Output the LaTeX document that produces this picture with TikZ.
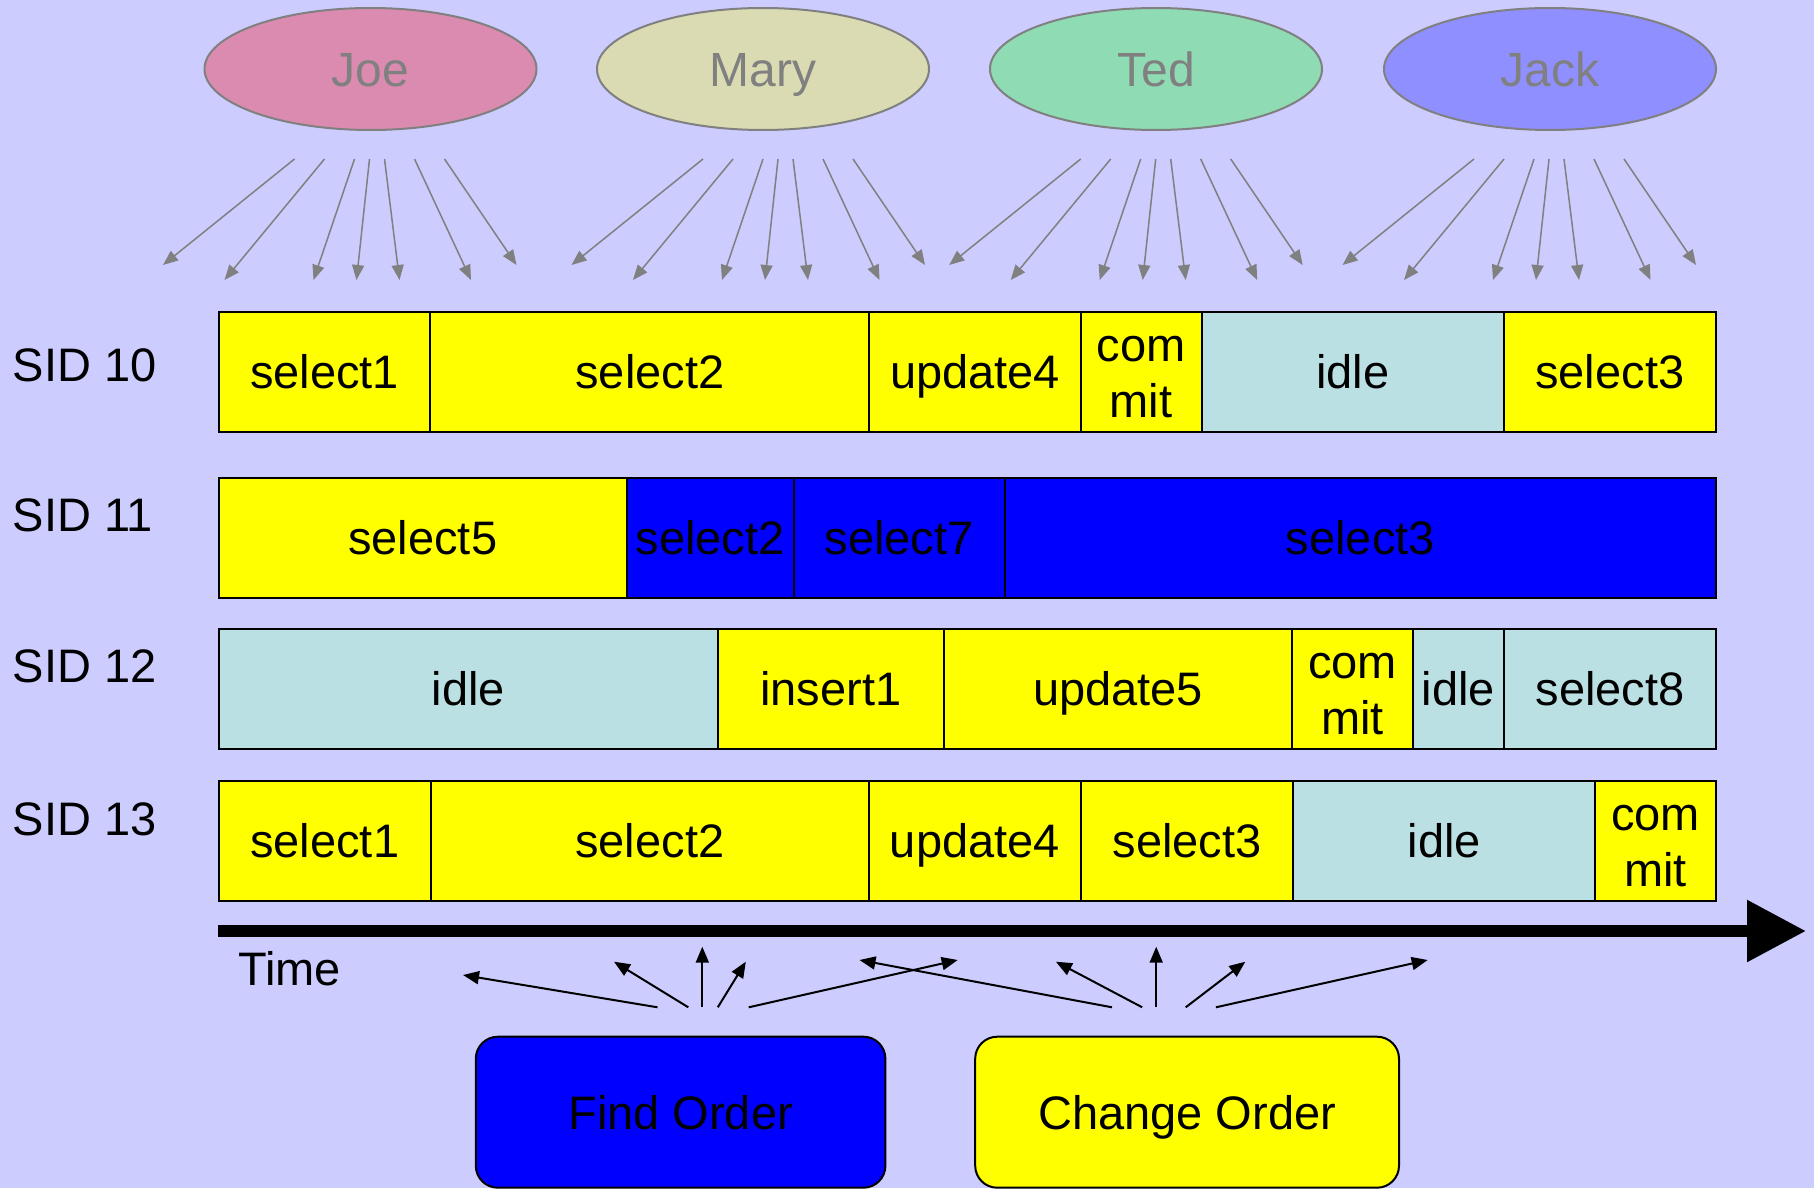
\documentclass[tikz,border=0pt]{standalone}
\usepackage{fontspec}
\setmainfont{Liberation Sans}
\usetikzlibrary{arrows.meta,shapes.geometric,calc}
\definecolor{bg}{RGB}{204,204,255}
\definecolor{joec}{RGB}{219,139,176}
\definecolor{maryc}{RGB}{219,219,179}
\definecolor{tedc}{RGB}{143,219,180}
\definecolor{jackc}{RGB}{143,143,255}
\definecolor{idlec}{RGB}{186,224,227}
\definecolor{ylw}{RGB}{255,255,0}
\definecolor{blu}{RGB}{0,0,255}
\definecolor{grayc}{RGB}{128,128,128}
\newcommand\seg[7]{%
  \node[segbox,#6,minimum width={(#3-#2)*1pt},minimum height={(#5-#4)*1pt}] (#1) at ({(#2+#3)/2},{(#4+#5)/2}) {#7};}
\newcommand\commitcell{\begin{tabular}[b]{@{}c@{}}com\\mit\end{tabular}}
\tikzset{
  segbox/.style={draw=black, line width=2pt, inner sep=0pt, outer sep=0pt, font=\fontsize{47}{56.5}\selectfont},
  one/.style={text height=34pt, text depth=0pt},
  two/.style={text height=92pt, text depth=0pt},
  Y/.style={fill=ylw}, I/.style={fill=idlec}, B/.style={fill=blu},
  actor/.style={ellipse, draw=grayc, line width=2pt, minimum width=332pt, minimum height=122pt, inner sep=0pt, text=grayc, font=\fontsize{48}{56}\selectfont, text height=35pt, text depth=0pt},
  lbl/.style={inner sep=0pt, font=\fontsize{47}{56}\selectfont, anchor=base west},
  opbox/.style={draw=black, line width=2pt, rounded corners=22pt, minimum height=151pt, inner sep=0pt, font=\fontsize{47}{56}\selectfont, text height=34pt, text depth=0pt},
  grayarrow/.style={draw=grayc, line width=1.5pt, -{Triangle[length=15pt,width=12pt]}},
  blkarrow/.style={draw=black, line width=2pt, -{Triangle[length=16pt,width=13pt]}},
}
\begin{document}
\begin{tikzpicture}[x=1pt,y=-1pt]
\clip (0,0) rectangle (1814,1188);
\fill[bg] (0,0) rectangle (1814,1188);
% actors
\node[actor, fill=joec]  (joe)  at (370.5,69) {Joe};
\node[actor, fill=maryc] (mary) at (763,69)   {Mary};
\node[actor, fill=tedc]  (ted)  at (1156,69)  {Ted};
\node[actor, fill=jackc] (jack) at (1550,69)  {Jack};
% gray arrows
\foreach \nm/\s in {joe/294.5, mary/703, ted/1080.7, jack/1474} {
  \foreach \i/\a/\b/\y in {1/0/-131.5/265, 2/30/-70/280, 3/60/19/280, 4/75/62/280, 5/90/105/280, 6/120/176.5/280, 7/150/222/265} {
    \coordinate (\nm-s\i) at ({\s+\a},159);
    \coordinate (\nm-e\i) at ({\s+\b},\y);
    \draw[grayarrow] (\nm-s\i) -- (\nm-e\i);
  }
}
% row labels
\node[lbl] (sid10) at (12.7,381.7) {SID 10};
\node[lbl] (sid11) at (12.7,531.7) {SID 11};
\node[lbl] (sid12) at (12.7,682.7) {SID 12};
\node[lbl] (sid13) at (12.7,835.5) {SID 13};
% SID 10
\seg{a1}{218.7}{430.4}{311.5}{431.7}{Y,one}{select1}
\seg{a2}{430.4}{869.4}{311.5}{431.7}{Y,one}{select2}
\seg{a3}{869.4}{1080.6}{311.5}{431.7}{Y,one}{update4}
\seg{a4}{1080.6}{1201.5}{311.5}{431.7}{Y,two}{\commitcell}
\seg{a5}{1201.5}{1503.8}{311.5}{431.7}{I,one}{idle}
\seg{a6}{1503.8}{1715.8}{311.5}{431.7}{Y,one}{select3}
% SID 11
\seg{b1}{218.7}{626.8}{477.5}{597.7}{Y,one}{select5}
\seg{b2}{626.8}{793.6}{477.5}{597.7}{B,one}{select2}
\seg{b3}{793.6}{1004.8}{477.5}{597.7}{B,one}{select7}
\seg{b4}{1004.8}{1715.8}{477.5}{597.7}{B,one}{select3}
% SID 12
\seg{c1}{218.7}{717.9}{628.5}{749.0}{I,one}{idle}
\seg{c2}{717.9}{944}{628.5}{749.0}{Y,one}{insert1}
\seg{c3}{944}{1292.3}{628.5}{749.0}{Y,one}{update5}
\seg{c4}{1292.3}{1413}{628.5}{749.0}{Y,two}{\commitcell}
\seg{c5}{1413}{1504.1}{628.5}{749.0}{I,one}{idle}
\seg{c6}{1504.1}{1715.8}{628.5}{749.0}{I,one}{select8}
% SID 13
\seg{d1}{218.7}{430.8}{780.7}{900.7}{Y,one}{select1}
\seg{d2}{430.8}{868.8}{780.7}{900.7}{Y,one}{select2}
\seg{d3}{868.8}{1081}{780.7}{900.7}{Y,one}{update4}
\seg{d4}{1081}{1293.3}{780.7}{900.7}{Y,one}{select3}
\seg{d5}{1293.3}{1595.3}{780.7}{900.7}{I,one}{idle}
\seg{d6}{1595.3}{1715.8}{780.7}{900.7}{Y,two}{\commitcell}
% time axis
\coordinate (t0) at (218.3,931);
\coordinate (t1) at (1806,931);
\draw[line width=12pt, -{Triangle[length=59pt,width=59pt]}] (t0) -- (t1);
\node[lbl] (time) at (238,985.7) {Time};
% operation boxes
\node[opbox, fill=blu, minimum width=409.6pt] (find) at (680.6,1112.2) {Find Order};
\node[opbox, fill=ylw, minimum width=423.8pt] (change) at (1187.1,1112.2) {Change Order};
% black arrows
\foreach \i/\sx/\ex/\ey in {1/657.5/463/975, 2/688.3/614/961.7, 3/702.3/702.3/946.7, 4/717.8/745.8/961.7, 5/748.7/957.7/960} {
  \coordinate (f-s\i) at (\sx,1007.3);
  \coordinate (f-e\i) at (\ex,\ey);
  \draw[blkarrow] (f-s\i) -- (f-e\i);
}
\foreach \i/\sx/\ex/\ey in {1/1112/859.5/960, 2/1142.2/1055.9/961.7, 3/1156.2/1156.2/946.7, 4/1185.7/1245.3/961.7, 5/1215.9/1427.7/960} {
  \coordinate (c-s\i) at (\sx,1007.3);
  \coordinate (c-e\i) at (\ex,\ey);
  \draw[blkarrow] (c-s\i) -- (c-e\i);
}
\end{tikzpicture}
\end{document}
